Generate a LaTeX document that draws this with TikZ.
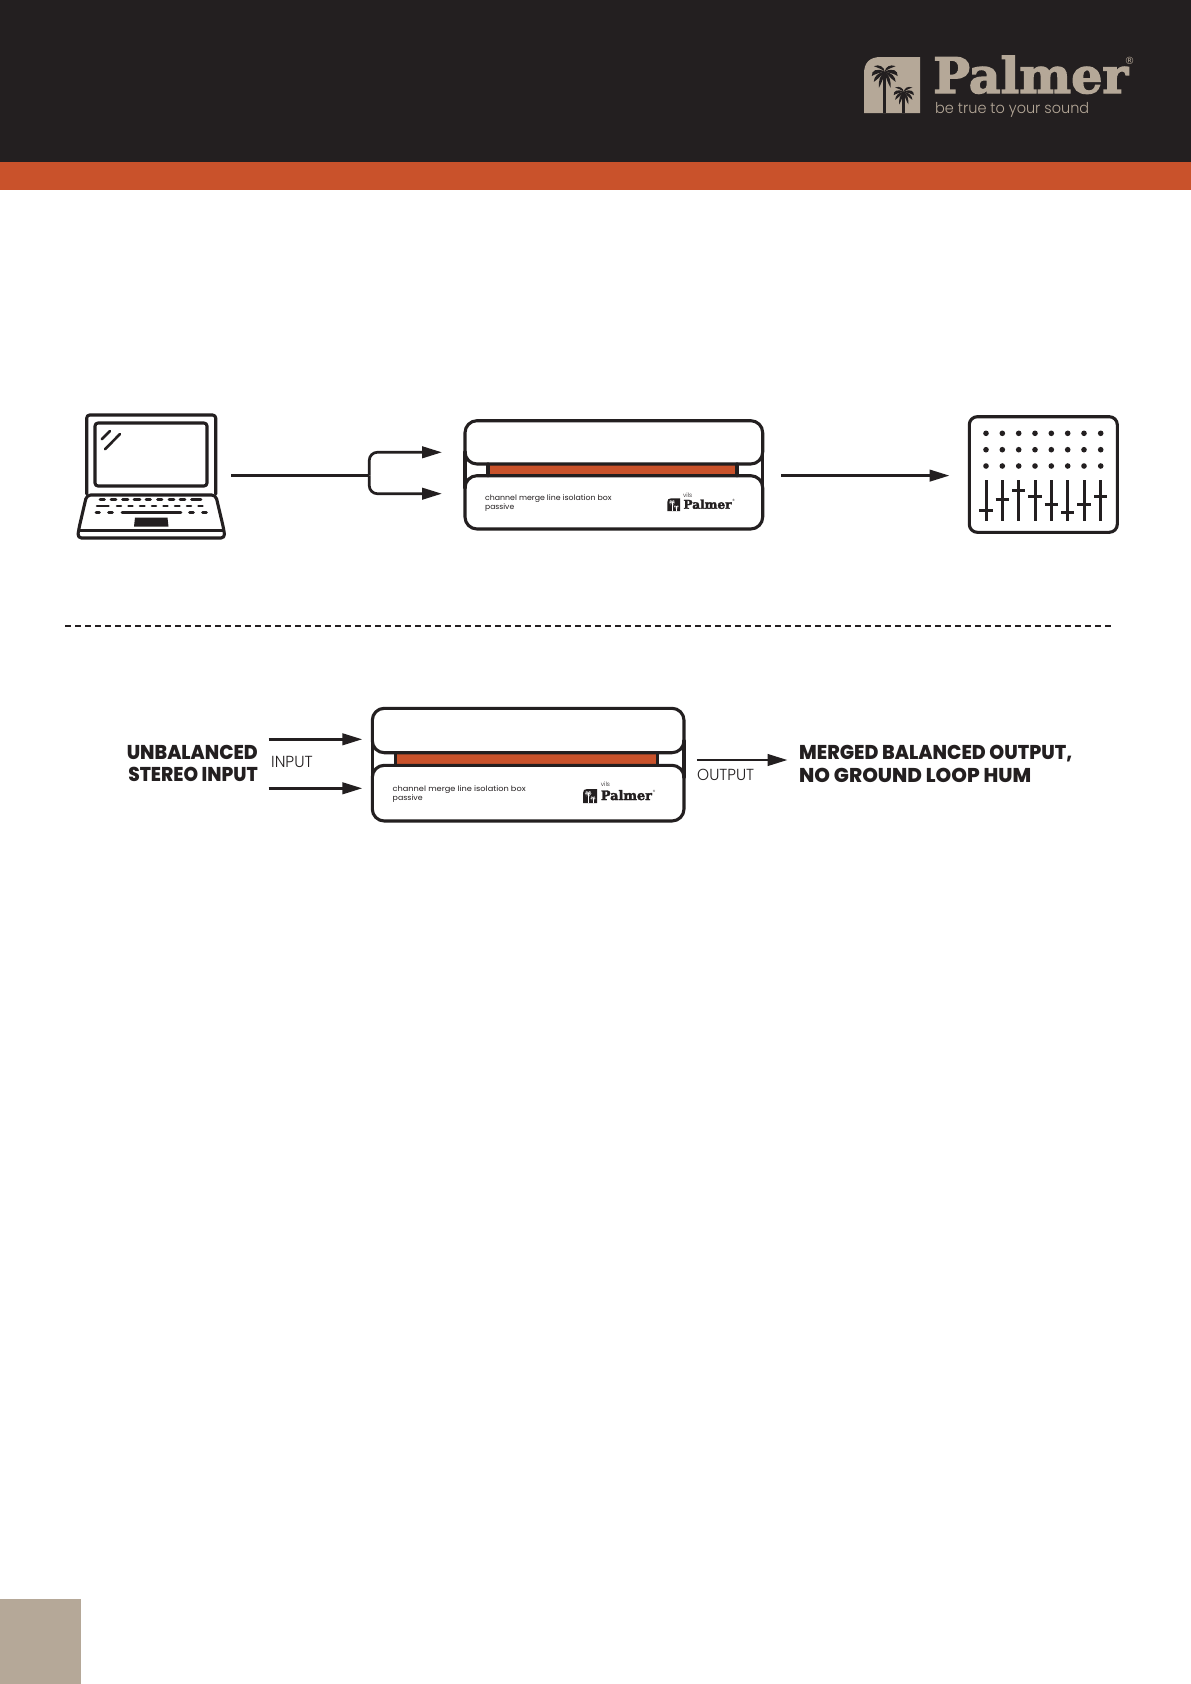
\documentclass[tikz,border=0pt]{standalone}
\usepackage{graphicx}
\usepackage{fontspec}
\setmainfont{Poppins}
\newfontfamily\thinfont{Poppins Light}
\newfontfamily\heavyfont{Poppins ExtraBold}
\newfontfamily\wordfont[FakeBold=2.6]{DejaVu Serif Bold}
\newfontfamily\markfont{DejaVu Sans}
\usetikzlibrary{arrows.meta}
\definecolor{ink}{HTML}{231F20}
\definecolor{rust}{HTML}{C9522B}
\definecolor{tan}{HTML}{B5A898}
\newsavebox\fitbox
\newcommand{\fitw}[2]{\sbox\fitbox{#2}\pgfmathparse{#1/\the\wd\fitbox}\scalebox{\pgfmathresult}[1]{\usebox\fitbox}}
\tikzset{
  x=1pt,y=-1pt,
  wire/.style={draw=ink,line width=2.7pt},
  arrowline/.style={wire,-{Triangle[length=20pt,width=11.5pt]}},
  icon/.style={draw=ink,line width=3.1pt,line join=round,line cap=round},
  keyline/.style={draw=ink,line width=2.6pt,line cap=round},
  fader/.style={draw=ink,line width=3pt},
  label/.style={anchor=base west,inner sep=0pt,text=ink},
  boldlabel/.style={label,font=\heavyfont\fontsize{20}{20}\selectfont},
  thinlabel/.style={label,font=\thinfont\fontsize{16}{16}\selectfont},
  smalltext/.style={label,font=\fontsize{7.5}{7.5}\selectfont},
}
% one palm: x, y of crown, half span, trunk bottom, colour
\newcommand{\palmtree}[5]{%
  \fill[#5] (#1-0.13*#3,#2) rectangle (#1+0.13*#3,#4);
  \begin{scope}[shift={(#1,#2)},x=#3 pt,y=-#3 pt]
    \foreach \s in {1,-1}{
      \begin{scope}[xscale=\s]
        \fill[#5] (0,0) .. controls (.05,.4) and (.25,.9) .. (.45,1.25) .. controls (.5,.8) and (.4,.3) .. (0,0);
        \fill[#5] (0,0) .. controls (.25,.3) and (.55,.6) .. (.85,.8) .. controls (.85,.4) and (.5,.05) .. (0,0);
        \fill[#5] (0,0) .. controls (.4,.1) and (.8,.2) .. (1,.35) .. controls (1.05,-.1) and (.6,-.3) .. (0,0);
        \fill[#5] (0,0) .. controls (.05,-.35) and (.4,-.6) .. (.85,-.42) .. controls (.55,-.3) and (.25,-.2) .. (0,0);
      \end{scope}
    }
  \end{scope}
}
% logo mark: left, top, size, fill, palm colour
\newcommand{\logomark}[5]{%
  \fill[#4] (#1,#2+#3) -- (#1,#2+0.3*#3) .. controls (#1,#2+0.1*#3) and (#1+0.1*#3,#2) .. (#1+0.3*#3,#2) -- (#1+#3,#2) -- (#1+#3,#2+#3) -- cycle;
  \palmtree{#1+0.37*#3}{#2+0.26*#3}{0.23*#3}{#2+#3}{#5}
  \palmtree{#1+0.71*#3}{#2+0.62*#3}{0.18*#3}{#2+#3}{#5}
}
% device: name, left, right, top, bar top, bar bottom, bottom, bar left, bar right
\newcommand{\devicebox}[9]{%
  \fill[rust] (#8,#5) rectangle (#9,#6);
  \draw[icon] (#8,#5) -- (#8,#6) (#9,#5) -- (#9,#6);
  \draw[icon,rounded corners=12pt] (#2,#5) rectangle (#3,#4);
  \draw[icon,rounded corners=12pt] (#2,#6) rectangle (#3,#7);
  \draw[icon] (#2,#5-12) -- (#2,#6+12) (#3,#5-12) -- (#3,#6+12);
  \coordinate (#1) at (#2,#4);
}
\begin{document}
\begin{tikzpicture}
\useasboundingbox (0,0) rectangle (1191,1684);
\fill[white] (0,0) rectangle (1191,1684);
% header
\fill[ink] (0,0) rectangle (1191,162);
\fill[rust] (0,162) rectangle (1191,190);
\fill[tan] (0,1599) rectangle (81,1684);
\logomark{864}{57}{56}{tan}{ink}
\node[label,text=tan,font=\wordfont\fontsize{49}{49}\selectfont] (brand) at (933,93) {\fitw{195}{Palmer}};
\node[label,text=tan,font=\markfont\fontsize{10}{10}\selectfont] (brandreg) at (1124.5,64) {®};
\node[label,text=tan,font=\thinfont\fontsize{15}{15}\selectfont] (tagline) at (935,113) {\fitw{154}{be true to your sound}};

% laptop
\draw[icon,rounded corners=3pt] (86.7,494) -- (86.7,415) -- (215.7,415) -- (215.7,494);
\draw[icon,rounded corners=3pt] (95,423) rectangle (207,486);
\draw[keyline] (101.7,439.3) -- (110,431) (105,449.3) -- (120,434);
\draw[icon,rounded corners=4pt] (86.7,495) -- (215.7,495) -- (223.5,528) -- (225,538) -- (77.5,538) -- (79,528) -- cycle;
\draw[icon] (79,530.7) -- (223.5,530.7);
\foreach \a/\b in {100/104.5,111/116,122.5/128,134/140,146/150.5,157.5/162,169/174,180/185,191.5/201}
  \draw[keyline] (\a,499.7) -- (\b,499.7);
\foreach \a/\b in {97/108.5,117/121,128.5/132.5,140/144.5,152/156,163.5/167.5,175/179.5,187/191,198.5/202.5}
  \draw[keyline] (\a,506) -- (\b,506);
\foreach \a/\b in {96/99.5,108.5/112.5,122/181,189.5/193.5,202.5/206.5}
  \draw[keyline] (\a,512.3) -- (\b,512.3);
\fill[ink] (135,517.7) -- (167.5,517.7) -- (168.5,526.7) -- (134,526.7) -- cycle;

% first row connectors
\coordinate (lapout) at (231,475.3);
\coordinate (fork) at (369.3,475.3);
\coordinate (devAin) at (442,452.3);
\coordinate (devBin) at (442,493.7);
\draw[wire] (lapout) -- (fork);
\draw[arrowline,rounded corners=8pt] (fork) |- (devAin);
\draw[arrowline,rounded corners=8pt] (fork) |- (devBin);

% device 1
\devicebox{devone}{465}{762.7}{420.7}{464}{475.7}{529}{488}{737}
\node[smalltext] (dmodel) at (485,500.7) {\fitw{126.5}{channel merge line isolation box}};
\node[smalltext] (dpassive) at (485,509) {\fitw{29}{passive}};
\logomark{667.3}{498.3}{12.7}{ink}{white}
\node[label,font=\wordfont\fontsize{12}{12}\selectfont] (dbrand) at (683.3,508.7) {\fitw{48}{Palmer}};
\node[label,font=\thinfont\fontsize{6}{6}\selectfont] (dvils) at (683,497) {vils};
\node[label,font=\markfont\fontsize{3}{3}\selectfont] (dreg) at (732,501) {®};

% arrow to mixer
\coordinate (devout) at (781,475.6);
\coordinate (mixin) at (949.5,475.6);
\draw[arrowline] (devout) -- (mixin);

% mixer
\draw[icon,rounded corners=8pt] (969.3,416.7) rectangle (1117.3,532.3);
\foreach \x in {986,1002.3,1018.7,1035,1051.3,1067.7,1084,1100.7}
  \foreach \y in {433.3,449.7,466}
    \fill[ink] (\x,\y) circle[radius=2.8];
\foreach \x/\y in {986/510.3,1002.3/499.3,1018.7/490,1035/496,1051.3/504.3,1067.7/512.3,1084/504.3,1100.7/496}{
  \draw[fader] (\x,480) -- (\x,520.7);
  \draw[fader] (\x-6.7,\y) -- (\x+6.7,\y);
}

% divider
\coordinate (divl) at (65,625.7);
\coordinate (divr) at (1111.5,625.7);
\draw[draw=ink,line width=1.8pt,dash pattern=on 6pt off 4pt] (divl) -- (divr);

% lower row
\node[boldlabel,anchor=base east] (unbal) at (258,759.3) {\fitw{131}{UNBALANCED}};
\node[boldlabel,anchor=base east] (stereo) at (258,781.7) {\fitw{129.5}{STEREO INPUT}};
\coordinate (ina) at (268.5,739.3);
\coordinate (inax) at (362.3,739.3);
\coordinate (inb) at (268.5,788.3);
\coordinate (inbx) at (362.3,788.3);
\draw[arrowline] (ina) -- (inax);
\draw[arrowline] (inb) -- (inbx);
\node[thinlabel] (inputlab) at (271,767.7) {\fitw{41.5}{INPUT}};

\devicebox{devtwo}{372.3}{684}{708.3}{752.7}{765.3}{821}{395.5}{657.5}
\node[smalltext] (emodel) at (392.5,791.5) {\fitw{133}{channel merge line isolation box}};
\node[smalltext] (epassive) at (392.5,800) {\fitw{30}{passive}};
\logomark{583}{789}{14}{ink}{white}
\node[label,font=\wordfont\fontsize{13}{13}\selectfont] (ebrand) at (600.7,800) {\fitw{51}{Palmer}};
\node[label,font=\thinfont\fontsize{6}{6}\selectfont] (evils) at (600.7,786.7) {vils};
\node[label,font=\markfont\fontsize{3}{3}\selectfont] (ereg) at (652.5,792.5) {®};

\coordinate (outa) at (696.8,760);
\coordinate (outb) at (787.5,760);
\draw[arrowline] (outa) -- (outb);
\node[thinlabel] (outputlab) at (697,780) {\fitw{57}{OUTPUT}};
\node[boldlabel] (merged) at (799,759.5) {\fitw{273}{MERGED BALANCED OUTPUT,}};
\node[boldlabel] (noground) at (799,782.5) {\fitw{232}{NO GROUND LOOP HUM}};
\end{tikzpicture}
\end{document}
